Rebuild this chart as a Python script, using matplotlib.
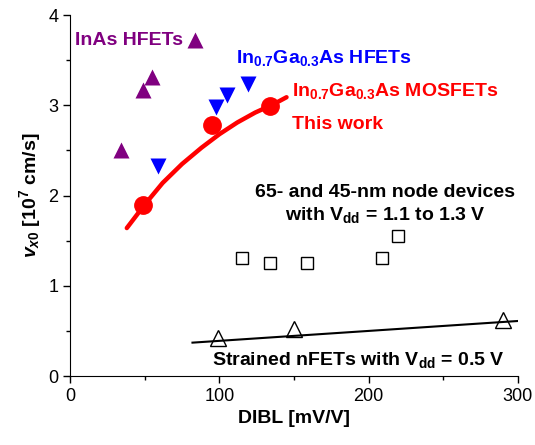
import matplotlib
matplotlib.use('Agg')

import matplotlib.pyplot as plt
from matplotlib.ticker import MultipleLocator

plt.rcParams['font.family'] = 'Liberation Sans'
plt.rcParams['mathtext.fontset'] = 'custom'
plt.rcParams['mathtext.rm'] = 'Liberation Sans:bold'
plt.rcParams['mathtext.it'] = 'Liberation Sans:bold:italic'
plt.rcParams['mathtext.bf'] = 'Liberation Sans:bold'
plt.rcParams['mathtext.default'] = 'rm'

# InAs HFETs
inas_dibl = [34, 49, 55, 84]
inas_v    = [2.50, 3.17, 3.31, 3.72]

# In0.7Ga0.3As HFETs
ingaas_hfet_dibl = [59, 98, 105, 119]
ingaas_hfet_v    = [2.33, 2.98, 3.12, 3.24]

# In0.7Ga0.3As MOSFETs (this work) and trend curve
mos_dibl = [49, 95, 134]
mos_v    = [1.90, 2.78, 2.99]
mos_fit_dibl = [38, 50, 62, 75, 88, 100, 112, 124, 136, 145]
mos_fit_v    = [1.64, 1.90, 2.14, 2.35, 2.53, 2.68, 2.81, 2.92, 3.01, 3.09]

# 65/45-nm node devices
node_dibl = [115, 134, 159, 209, 220]
node_v    = [1.31, 1.25, 1.25, 1.31, 1.55]

# strained nFETs, Vdd = 0.5 V
strained_dibl = [99, 150, 290]
strained_v    = [0.42, 0.52, 0.62]
strained_fit_dibl = [82, 300]
strained_fit_v    = [0.37, 0.61]

fig = plt.figure(figsize=(5.35, 4.45), dpi=100)
ax = fig.add_axes([0.131, 0.155, 0.837, 0.811])

ax.plot(mos_fit_dibl, mos_fit_v, color='#ff0000', lw=3.2, solid_capstyle='round', zorder=2)
ax.plot(mos_dibl, mos_v, 'o', color='#ff0000', ms=12.5, zorder=3)
ax.plot(inas_dibl, inas_v, '^', color='#800080', ms=11, mec='none', zorder=3)
ax.plot(ingaas_hfet_dibl, ingaas_hfet_v, 'v', color='#0000ff', ms=11, mec='none', zorder=3)
ax.plot(node_dibl, node_v, 's', mfc='none', mec='black', mew=1.0, ms=9, zorder=3)
ax.plot(strained_fit_dibl, strained_fit_v, color='black', lw=1.5, zorder=2)
ax.plot(strained_dibl, strained_v, '^', mfc='none', mec='black', mew=1.0, ms=11, zorder=3)

fs = 14
ax.text(3, 3.72, 'InAs HFETs', color='#800080', fontsize=fs, fontweight='bold', va='center')
ax.text(111, 3.47, r'In$_{0.7}$Ga$_{0.3}$As HFETs', color='#0000ff', fontsize=fs, fontweight='bold', va='baseline')
ax.text(149, 3.10, r'In$_{0.7}$Ga$_{0.3}$As MOSFETs', color='#ff0000', fontsize=fs, fontweight='bold', va='baseline')
ax.text(149, 2.74, 'This work', color='#ff0000', fontsize=fs, fontweight='bold', va='baseline')
ax.text(211, 1.98, '65- and 45-nm node devices', color='black', fontsize=fs, fontweight='bold', ha='center', va='baseline')
ax.text(211, 1.73, r'with V$_{dd}$ = 1.1 to 1.3 V', color='black', fontsize=fs, fontweight='bold', ha='center', va='baseline')
ax.text(95, 0.12, r'Strained nFETs with V$_{dd}$ = 0.5 V', color='black', fontsize=fs, fontweight='bold', ha='left', va='baseline')

ax.set_xlim(0, 300)
ax.set_ylim(0, 4)
ax.xaxis.set_major_locator(MultipleLocator(100))
ax.xaxis.set_minor_locator(MultipleLocator(50))
ax.yaxis.set_major_locator(MultipleLocator(1))
ax.yaxis.set_minor_locator(MultipleLocator(0.5))
ax.tick_params(which='major', direction='out', length=5, width=1, labelsize=13)
ax.tick_params(which='minor', direction='out', length=3, width=1)
ax.spines['top'].set_visible(False)
ax.spines['right'].set_visible(False)

ax.set_xlabel('DIBL [mV/V]', fontsize=14, fontweight='bold')
ax.set_ylabel(r'$\mathit{v_{x0}}$ [10$^{7}$ cm/s]', fontsize=14, fontweight='bold')

plt.savefig('out.png', dpi=100)
